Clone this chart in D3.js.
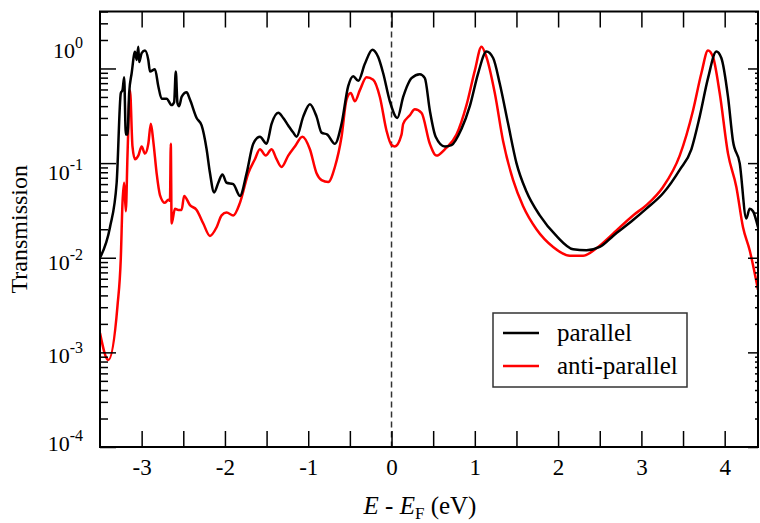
<!DOCTYPE html>
<html>
<head>
<meta charset="utf-8">
<script src="https://cdn.jsdelivr.net/npm/d3@7"></script>
<style>
  body { margin: 0; background: #fff; }
</style>
</head>
<body>
<div id="chart"></div>
<script>
// constants
const width = 760, height = 523,
  margin = { top: 11.5, right: 2, bottom: 76, left: 100 };
const FONT = "'Liberation Serif', 'Times New Roman', serif";

// data: energies (eV) and transmission
const parallelE = [-3.50, -3.38, -3.30, -3.25, -3.23, -3.21, -3.19, -3.17, -3.15, -3.12, -3.08, -3.06, -3.04, -3.03,
  -3.00, -2.96, -2.92, -2.90, -2.84, -2.80, -2.76, -2.70, -2.64, -2.61, -2.59, -2.57, -2.55, -2.52, -2.46,
  -2.42, -2.34, -2.28, -2.22, -2.18, -2.13, -2.08, -2.03, -1.98, -1.90, -1.82, -1.74, -1.66, -1.58, -1.50,
  -1.44, -1.36, -1.30, -1.24, -1.18, -1.14, -1.06, -0.98, -0.90, -0.84, -0.77, -0.68, -0.60, -0.52, -0.46,
  -0.40, -0.32, -0.23, -0.16, -0.10, -0.02, 0.07, 0.14, 0.20, 0.24, 0.34, 0.40, 0.46, 0.53, 0.64, 0.72,
  0.84, 0.94, 1.04, 1.14, 1.22, 1.30, 1.40, 1.50, 1.62, 1.78, 1.98, 2.18, 2.34, 2.50, 2.66, 2.90, 3.06,
  3.26, 3.46, 3.60, 3.70, 3.80, 3.90, 3.96, 4.04, 4.10, 4.18, 4.26, 4.30, 4.34, 4.40];
const parallelT = [0.010, 0.021, 0.062, 0.55, 0.59, 0.81, 0.20, 0.20, 0.55, 0.89, 1.5, 1.23, 1.7, 1.17,
  1.45, 1.55, 1.23, 0.93, 0.98, 0.65, 0.48, 0.48, 0.41, 0.44, 0.93, 0.43, 0.40, 0.50, 0.56,
  0.47, 0.30, 0.25, 0.14, 0.079, 0.049, 0.062, 0.076, 0.062, 0.060, 0.045, 0.078, 0.16, 0.19, 0.16,
  0.26, 0.34, 0.30, 0.25, 0.21, 0.19, 0.31, 0.42, 0.31, 0.21, 0.20, 0.16, 0.26, 0.65, 0.83,
  0.74, 1.12, 1.58, 1.32, 0.89, 0.45, 0.30, 0.50, 0.69, 0.79, 0.87, 0.79, 0.36, 0.19, 0.15, 0.155,
  0.23, 0.40, 0.89, 1.51, 1.29, 0.69, 0.26, 0.10, 0.050, 0.028, 0.017, 0.0123, 0.012, 0.013, 0.017, 0.025, 0.033,
  0.048, 0.085, 0.14, 0.31, 0.79, 1.51, 1.29, 0.50, 0.17, 0.10, 0.026, 0.033, 0.031, 0.021];

const antiE = [-3.50, -3.40, -3.29, -3.25, -3.23, -3.21, -3.19, -3.17, -3.14, -3.11, -3.08, -3.04, -3.00, -2.96,
  -2.92, -2.89, -2.86, -2.82, -2.78, -2.72, -2.68, -2.66, -2.65, -2.64, -2.60, -2.56, -2.52, -2.49, -2.42,
  -2.34, -2.26, -2.18, -2.10, -2.04, -1.98, -1.90, -1.82, -1.72, -1.64, -1.58, -1.51, -1.44, -1.38, -1.32,
  -1.24, -1.16, -1.07, -0.98, -0.90, -0.84, -0.76, -0.68, -0.60, -0.54, -0.49, -0.44, -0.38, -0.30, -0.22,
  -0.14, -0.06, 0.00, 0.04, 0.12, 0.14, 0.22, 0.28, 0.36, 0.46, 0.54, 0.64, 0.78, 0.90, 1.00, 1.08, 1.14,
  1.24, 1.34, 1.46, 1.58, 1.74, 1.94, 2.14, 2.30, 2.46, 2.66, 2.90, 3.06, 3.26, 3.46, 3.62, 3.72, 3.80,
  3.86, 3.94, 4.04, 4.14, 4.22, 4.30, 4.40];
const antiT = [0.0016, 0.00083, 0.0031, 0.010, 0.038, 0.062, 0.031, 0.12, 0.59, 0.15, 0.11, 0.12, 0.15, 0.126,
  0.16, 0.26, 0.17, 0.078, 0.046, 0.038, 0.041, 0.040, 0.16, 0.023, 0.033, 0.032, 0.032, 0.045, 0.036,
  0.032, 0.023, 0.017, 0.021, 0.028, 0.030, 0.028, 0.038, 0.078, 0.11, 0.14, 0.12, 0.14, 0.11, 0.091,
  0.12, 0.15, 0.19, 0.14, 0.078, 0.066, 0.063, 0.091, 0.19, 0.47, 0.55, 0.45, 0.59, 0.81, 0.76,
  0.50, 0.22, 0.155, 0.15, 0.20, 0.26, 0.32, 0.37, 0.34, 0.16, 0.12, 0.14, 0.20, 0.41, 0.95, 1.7, 1.32,
  0.55, 0.17, 0.066, 0.035, 0.020, 0.013, 0.0105, 0.0105, 0.0126, 0.018, 0.028, 0.036, 0.056, 0.12, 0.36, 0.89, 1.55,
  1.32, 0.55, 0.126, 0.056, 0.021, 0.012, 0.0046];

const seriesNames = ["parallel", "anti-parallel"];
const seriesColors = ["#000000", "#ff0000"];

const xTicks = d3.range(-3, 4.01, 0.5);
const yMajor = [1e-4, 1e-3, 1e-2, 1e-1, 1];
const yLabelsExp = ["-4", "-3", "-2", "-1", "0"];

// scales
const x = d3.scaleLinear().domain([-3.5, 4.4]).range([margin.left, width - margin.right]);
const y = d3.scaleLog().domain([1e-4, 4]).range([height - margin.bottom, margin.top]);

const yMinor = [];
yMajor.forEach(d => { for (let k = 2; k <= 9; k++) { if (d * k <= 4) yMinor.push(d * k); } });

const svg = d3.select("#chart").append("svg")
  .attr("width", width)
  .attr("height", height)
  .style("font-family", FONT);

const yBottom = y.range()[0], yTop = y.range()[1];

svg.append("clipPath").attr("id", "clip")
  .append("rect")
  .attr("x", x.range()[0]).attr("y", yTop)
  .attr("width", x.range()[1] - x.range()[0])
  .attr("height", yBottom - yTop);

// curves
const line = d3.line()
  .x(d => x(d[0]))
  .y(d => y(d[1]))
  .curve(d3.curveMonotoneX);

const series = [
  d3.zip(parallelE, parallelT),
  d3.zip(antiE, antiT)
];

const plot = svg.append("g").attr("clip-path", "url(#clip)");

// Fermi level
plot.append("line")
  .attr("x1", x(0)).attr("x2", x(0))
  .attr("y1", yTop).attr("y2", yBottom)
  .attr("stroke", "#333")
  .attr("stroke-width", 1.5)
  .attr("stroke-dasharray", "6,4");

// red under, black on top
[1, 0].forEach(i => {
  plot.append("path")
    .datum(series[i])
    .attr("fill", "none")
    .attr("stroke", seriesColors[i])
    .attr("stroke-width", 2.5)
    .attr("stroke-linejoin", "round")
    .attr("d", line);
});

// axes
const xAxis = svg.append("g")
  .attr("transform", `translate(0,${yBottom})`)
  .call(d3.axisBottom(x).tickValues(xTicks).tickSize(-16).tickPadding(12)
    .tickFormat(d => Number.isInteger(d) ? String(d) : ""));
xAxis.selectAll("text").style("font-family", FONT).style("font-size", "23px").attr("fill", "#000");

svg.append("g")
  .attr("transform", `translate(0,${yTop})`)
  .call(d3.axisTop(x).tickValues(xTicks).tickSize(-16).tickFormat(""));

svg.append("g")
  .attr("transform", `translate(${x.range()[0]},0)`)
  .call(d3.axisLeft(y).tickValues(yMajor).tickSize(-16).tickFormat(""));
svg.append("g")
  .attr("transform", `translate(${x.range()[0]},0)`)
  .call(d3.axisLeft(y).tickValues(yMinor).tickSize(-8).tickFormat(""));
svg.append("g")
  .attr("transform", `translate(${x.range()[1]},0)`)
  .call(d3.axisRight(y).tickValues(yMajor).tickSize(-10).tickFormat(""));
svg.append("g")
  .attr("transform", `translate(${x.range()[1]},0)`)
  .call(d3.axisRight(y).tickValues(yMinor).tickSize(-3).tickFormat(""));

svg.selectAll(".domain").remove();
svg.selectAll(".tick line").attr("stroke", "#000").attr("stroke-width", 1.5);

// y tick labels with superscripts (baseline nudges as in the original figure)
const yLabelNudge = [4, 11, 12, 17, -10];
const yl = svg.append("g").selectAll("text")
  .data(yMajor)
  .join("text")
  .attr("x", 83)
  .attr("y", (d, i) => y(d) + yLabelNudge[i])
  .attr("text-anchor", "end")
  .style("font-family", FONT)
  .style("font-size", "22px");
yl.append("tspan").text("10");
yl.append("tspan")
  .attr("dy", -10)
  .style("font-size", "16px")
  .text((d, i) => yLabelsExp[i]);

// frame
svg.append("rect")
  .attr("x", x.range()[0]).attr("y", yTop)
  .attr("width", x.range()[1] - x.range()[0])
  .attr("height", yBottom - yTop)
  .attr("fill", "none")
  .attr("stroke", "#000")
  .attr("stroke-width", 2);

// axis titles
svg.append("text")
  .attr("transform", `translate(27,${(yTop + yBottom) / 2}) rotate(-90)`)
  .attr("text-anchor", "middle")
  .style("font-family", FONT)
  .style("font-size", "24px")
  .text("Transmission");

const xt = svg.append("text")
  .attr("x", 420).attr("y", 514)
  .attr("text-anchor", "middle")
  .style("font-family", FONT)
  .style("font-size", "25px");
xt.append("tspan").style("font-style", "italic").text("E");
xt.append("tspan").text(" - ");
xt.append("tspan").style("font-style", "italic").text("E");
xt.append("tspan").attr("dy", 5).style("font-size", "17px").text("F");
xt.append("tspan").attr("dy", -5).text(" (eV)");

// legend
const legend = svg.append("g").attr("transform", "translate(493,313)");
legend.append("rect")
  .attr("width", 194).attr("height", 74)
  .attr("fill", "#fff")
  .attr("stroke", "#333")
  .attr("stroke-width", 1.5);
seriesNames.forEach((name, i) => {
  const row = legend.append("g").attr("transform", `translate(0,${20 + i * 33})`);
  row.append("line")
    .attr("x1", 10).attr("x2", 46)
    .attr("stroke", seriesColors[i])
    .attr("stroke-width", 2.5);
  row.append("text")
    .attr("x", 64).attr("y", 8)
    .style("font-family", FONT)
    .style("font-size", "25px")
    .text(name);
});
</script>
</body>
</html>
